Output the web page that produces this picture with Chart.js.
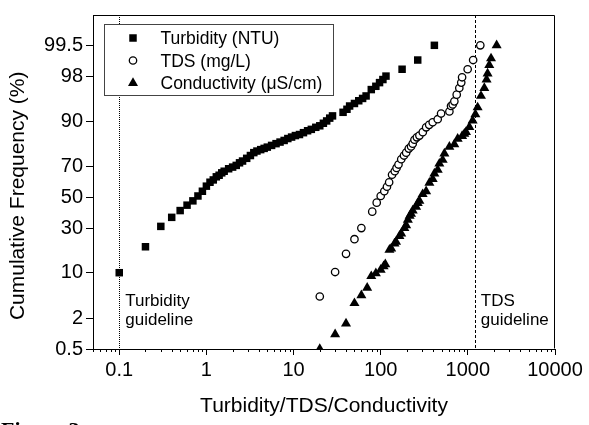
<!DOCTYPE html>
<html>
<head>
<meta charset="utf-8">
<script src="https://cdn.jsdelivr.net/npm/chart.js@4/dist/chart.umd.min.js"></script>
<style>
  html, body { margin: 0; padding: 0; background: #fff; }
  #wrap { width: 589px; height: 425px; position: relative; }
</style>
</head>
<body>
<div id="wrap"><canvas id="c" width="589" height="425"></canvas></div>
<script>
// ---------- data ----------
const turbidityX = [0.1, 0.2, 0.3, 0.4, 0.5, 0.6, 0.7, 0.8, 0.9, 1.0, 1.1, 1.2, 1.3, 1.4, 1.5, 1.6, 1.8, 2.0, 2.2, 2.4, 2.6, 2.9, 3.2, 3.5, 3.8, 4.2, 4.6, 5.0, 5.6, 6.3, 7.0, 7.8, 8.6, 9.5, 10.5, 11.7, 13, 14.5, 16, 18, 20, 22, 24, 26, 28, 37, 41, 44, 50, 56, 62, 68, 78, 88, 97, 106, 115, 176, 266, 413];
const turbidityP = [10, 20, 31, 36.6, 41, 44.6, 47.5, 50.8, 54, 57.4, 60, 61.5, 63.5, 64.5, 66, 67, 68.5, 69.5, 70.5, 72, 73, 74.5, 76, 77.5, 78.3, 79, 79.6, 80.2, 81, 81.8, 82.5, 83.2, 84, 84.6, 85.2, 85.6, 86.3, 87, 87.5, 88.2, 88.7, 89.5, 90.2, 91, 91.6, 92.5, 93.2, 93.9, 94.4, 94.9, 95.3, 95.7, 96.6, 97, 97.4, 97.7, 98, 98.5, 99, 99.5];

const tdsX = [20, 30, 40, 50, 60, 80, 90, 100, 110, 118, 125, 135, 145, 152, 160, 172, 185, 196, 210, 223, 233, 244, 260, 278, 304, 332, 360, 395, 451, 493, 614, 641, 670, 700, 745, 798, 840, 859, 995, 1150, 1390];
const tdsP = [4.6, 10.2, 16.8, 23.8, 30, 40.3, 46.3, 50.8, 54, 57, 60, 64.8, 67, 69, 71, 74, 76, 77.5, 79.5, 80.5, 81.8, 83.5, 84.5, 85.2, 86.5, 88.2, 89, 89.8, 90.7, 92.2, 92.7, 93.9, 94.2, 94.8, 95.9, 96.8, 97.4, 97.9, 98.5, 99, 99.5];

const condX = [20, 30, 40, 50, 60, 70, 78, 88, 100, 108, 113, 126, 132, 144, 150, 164, 172, 187, 196, 205, 215, 223, 233, 255, 266, 278, 303, 332, 362, 395, 413, 451, 471, 514, 538, 614, 700, 764, 860, 912, 953, 1040, 1135, 1220, 1295, 1415, 1545, 1640, 1685, 1762, 1845, 2140];
const condP = [0.5, 1.0, 1.6, 3.6, 4.8, 6.2, 9.0, 9.8, 10.9, 12.0, 12.7, 18.6, 19.2, 21.6, 22.4, 25.5, 26.8, 30, 31.6, 35, 37.5, 38.8, 41, 43.5, 46, 47.5, 52, 54, 59.6, 62, 65.5, 67.8, 71.5, 73.6, 77, 80.3, 81.5, 83.9, 85, 85.9, 86.5, 88.3, 90.3, 92.0, 93.6, 95.7, 96.8, 97.7, 98.2, 98.75, 99.07, 99.5];

const seriesNames = ['Turbidity (NTU)', 'TDS (mg/L)', 'Conductivity (\u03bcS/cm)'];
const yTickPercents = [0.5, 2, 10, 30, 50, 70, 90, 98, 99.5];
const xTickValues = [0.1, 1, 10, 100, 1000, 10000];
const guidelineValues = [0.1, 1200];
const guidelineLabels = [['Turbidity', 'guideline'], ['TDS', 'guideline']];
const yRangePercent = [0.5, 99.9];
const xRange = [0.05, 10000];

// ---------- probability (probit) transform ----------
function probit(p) {
  const a = [-3.969683028665376e+01, 2.209460984245205e+02, -2.759285104469687e+02, 1.383577518672690e+02, -3.066479806614716e+01, 2.506628277459239e+00];
  const b = [-5.447609879822406e+01, 1.615858368580409e+02, -1.556989798598866e+02, 6.680131188771972e+01, -1.328068155288572e+01];
  const c = [-7.784894002430293e-03, -3.223964580411365e-01, -2.400758277161838e+00, -2.549732539343734e+00, 4.374664141464968e+00, 2.938163982698783e+00];
  const d = [7.784695709041462e-03, 3.224671290700398e-01, 2.445134137471128e+00, 3.754408661907416e+00];
  const plow = 0.02425, phigh = 1 - plow;
  let q, r;
  if (p < plow) {
    q = Math.sqrt(-2 * Math.log(p));
    return (((((c[0]*q+c[1])*q+c[2])*q+c[3])*q+c[4])*q+c[5]) / ((((d[0]*q+d[1])*q+d[2])*q+d[3])*q+1);
  } else if (p <= phigh) {
    q = p - 0.5; r = q*q;
    return (((((a[0]*r+a[1])*r+a[2])*r+a[3])*r+a[4])*r+a[5])*q / (((((b[0]*r+b[1])*r+b[2])*r+b[3])*r+b[4])*r+1);
  } else {
    q = Math.sqrt(-2 * Math.log(1 - p));
    return -(((((c[0]*q+c[1])*q+c[2])*q+c[3])*q+c[4])*q+c[5]) / ((((d[0]*q+d[1])*q+d[2])*q+d[3])*q+1);
  }
}
const toPoints = (xs, ps) => xs.map((x, i) => ({ x: x, y: probit(ps[i] / 100) }));

const FONT = '"Liberation Sans", Arial, Helvetica, sans-serif';

const datasetStyles = [
  { pointStyle: 'rect', radius: 5.3, backgroundColor: '#000', borderColor: '#000', borderWidth: 0 },
  { pointStyle: 'circle', radius: 3.7, backgroundColor: '#fff', borderColor: '#000', borderWidth: 1.3 },
  { pointStyle: 'triangle', radius: 5.8, backgroundColor: '#000', borderColor: '#000', borderWidth: 0 }
];

const decorPlugin = {
  id: 'decor',
  beforeDatasetsDraw(chart) {
    const { ctx, chartArea: ca, scales: { x } } = chart;
    ctx.save();
    ctx.strokeStyle = '#000';
    ctx.lineWidth = 1;
    guidelineValues.forEach((v, i) => {
      const px = Math.round(x.getPixelForValue(v)) + 0.5;
      ctx.setLineDash(i === 0 ? [1, 1] : [3, 2]);
      ctx.beginPath();
      ctx.moveTo(px, ca.top);
      ctx.lineTo(px, ca.bottom);
      ctx.stroke();
    });
    ctx.restore();
  },
  afterDraw(chart) {
    const { ctx, chartArea: ca, scales: { x } } = chart;
    ctx.save();
    ctx.strokeStyle = '#000';
    ctx.lineWidth = 1;
    ctx.setLineDash([]);
    // frame (top + right)
    const L = Math.round(ca.left) + 0.5, R = Math.round(ca.right) - 0.5;
    const T = Math.round(ca.top) + 0.5, B = Math.round(ca.bottom) - 0.5;
    ctx.beginPath();
    ctx.moveTo(L, T); ctx.lineTo(R, T); ctx.lineTo(R, B);
    ctx.stroke();
    // minor ticks on the log axis
    ctx.beginPath();
    for (let k = -2; k <= 3; k++) {
      for (let m = 2; m <= 9; m++) {
        const v = m * Math.pow(10, k);
        if (v < xRange[0] || v > xRange[1]) continue;
        const px = Math.round(x.getPixelForValue(v)) + 0.5;
        ctx.moveTo(px, ca.bottom);
        ctx.lineTo(px, ca.bottom + 3);
      }
    }
    ctx.stroke();
    // guideline labels
    ctx.fillStyle = '#000';
    ctx.font = '17px ' + FONT;
    ctx.textBaseline = 'middle';
    ctx.textAlign = 'left';
    guidelineValues.forEach((v, i) => {
      const px = x.getPixelForValue(v) + 6;
      ctx.fillText(guidelineLabels[i][0], px, ca.bottom - 48);
      ctx.fillText(guidelineLabels[i][1], px, ca.bottom - 29);
    });
    // legend box (white fill hides the guideline behind it)
    const bx = Math.round(ca.left + 11) + 0.5, by = Math.round(ca.top + 9) + 0.5;
    const bw = 229, bh = 71;
    ctx.fillStyle = '#fff';
    ctx.fillRect(bx, by, bw, bh);
    ctx.strokeStyle = '#444';
    ctx.strokeRect(bx, by, bw, bh);
    ctx.font = '17.5px ' + FONT;
    chart.data.datasets.forEach((ds, i) => {
      const cy = by + 13.5 + i * 22.5;
      ctx.fillStyle = ds.backgroundColor;
      ctx.strokeStyle = ds.borderColor;
      ctx.lineWidth = ds.borderWidth || 0;
      Chart.helpers.drawPoint(ctx, { pointStyle: ds.pointStyle, radius: ds.pointRadius, rotation: 0, borderWidth: ds.borderWidth }, bx + 28.5, cy);
      ctx.fillStyle = '#000';
      ctx.fillText(ds.label, bx + 56, cy + 1.5);
    });
    // figure caption (cut off at bottom of the picture)
    ctx.font = 'bold 22px "Liberation Serif", "Times New Roman", serif';
    ctx.textBaseline = 'top';
    ctx.fillStyle = '#000';
    ctx.fillText('Figure 3', 1, 420.5);
    ctx.restore();
  }
};

const sets = [[turbidityX, turbidityP], [tdsX, tdsP], [condX, condP]];

new Chart(document.getElementById('c'), {
  type: 'scatter',
  data: {
    datasets: sets.map((s, i) => ({
      label: seriesNames[i],
      data: toPoints(s[0], s[1]),
      pointStyle: datasetStyles[i].pointStyle,
      pointRadius: datasetStyles[i].radius,
      pointHoverRadius: datasetStyles[i].radius,
      backgroundColor: datasetStyles[i].backgroundColor,
      borderColor: datasetStyles[i].borderColor,
      borderWidth: datasetStyles[i].borderWidth,
      showLine: false
    }))
  },
  options: {
    responsive: false,
    animation: false,
    devicePixelRatio: 1,
    layout: { padding: { top: 9, right: 34, left: 0, bottom: 0 } },
    plugins: { legend: { display: false }, tooltip: { enabled: false } },
    scales: {
      x: {
        type: 'logarithmic',
        min: xRange[0], max: xRange[1],
        afterBuildTicks: (s) => { s.ticks = xTickValues.map(v => ({ value: v, major: true })); },
        afterFit: (s) => { s.height = 76; },
        ticks: {
          callback: (v) => String(v),
          color: '#000', font: { family: FONT, size: 20 },
          maxRotation: 0, autoSkip: false, padding: 3
        },
        grid: { drawOnChartArea: false, drawTicks: true, tickLength: 6, tickColor: '#000', color: '#000' },
        border: { display: true, color: '#000', width: 1 },
        title: { display: true, text: 'Turbidity/TDS/Conductivity', color: '#000', font: { family: FONT, size: 21 }, padding: { top: 0, bottom: 6 } }
      },
      y: {
        type: 'linear',
        min: probit(yRangePercent[0] / 100), max: probit(yRangePercent[1] / 100),
        afterBuildTicks: (s) => { s.ticks = yTickPercents.map(p => ({ value: probit(p / 100) })); },
        afterFit: (s) => { s.width = 93; },
        ticks: {
          callback: (v, i) => String(yTickPercents[i]),
          color: '#000', font: { family: FONT, size: 20 }, padding: 3, autoSkip: false
        },
        grid: { drawOnChartArea: false, drawTicks: true, tickLength: 7, tickColor: '#000', color: '#000' },
        border: { display: true, color: '#000', width: 1 },
        title: { display: true, text: 'Cumulative Frequency (%)    \u2009', color: '#000', font: { family: FONT, size: 21 }, padding: { top: 6, bottom: 0 } }
      }
    }
  },
  plugins: [decorPlugin]
});
</script>
</body>
</html>
